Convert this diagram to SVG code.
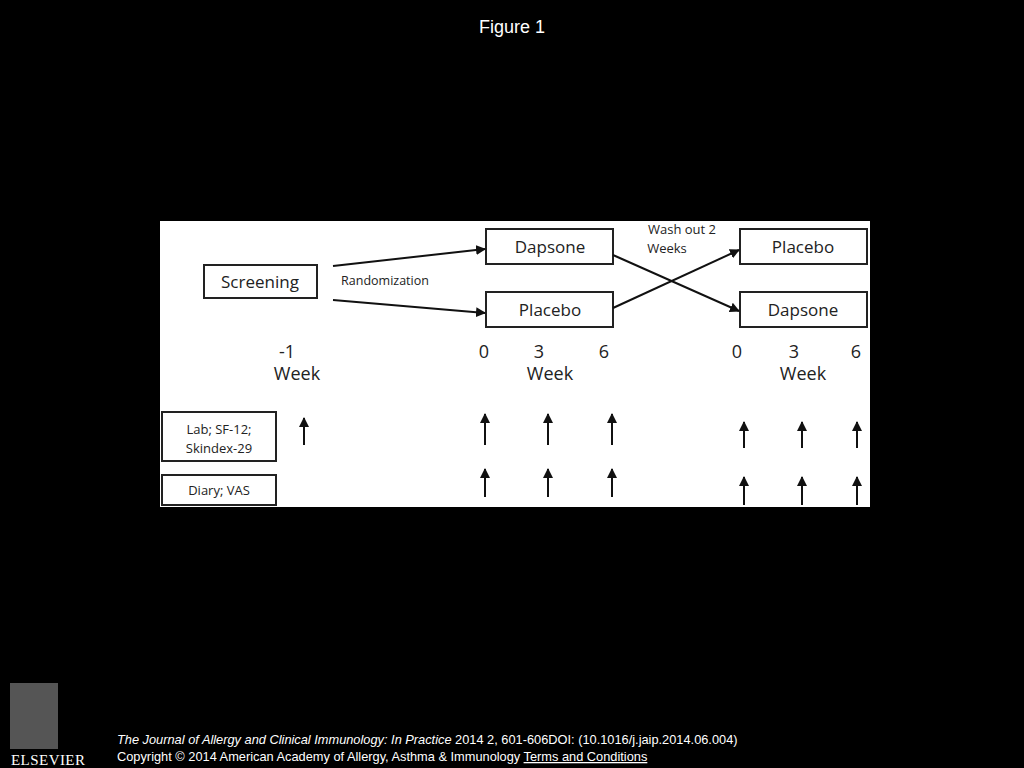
<svg xmlns="http://www.w3.org/2000/svg" width="1024" height="768" viewBox="0 0 1024 768">
<defs>
<marker id="ah" viewBox="0 0 10 10" refX="9" refY="5" markerWidth="5" markerHeight="5" orient="auto"><path d="M0,0 L10,5 L0,10 Z" fill="#111"/></marker>
</defs>
<style>
.box{fill:#fff;stroke:#222;stroke-width:2}
.t{font-family:"Open Sans","Liberation Sans",sans-serif;fill:#222;text-anchor:middle}
.c{stroke:#111;stroke-width:2;fill:none;marker-end:url(#ah)}
.f{font-family:"Liberation Sans",Arial,sans-serif;fill:#fff}
</style>
<rect width="1024" height="768" fill="#000"/>
<text class="f" x="512" y="33" font-size="18" text-anchor="middle">Figure 1</text>
<rect x="160" y="221" width="710" height="286" fill="#fff"/>
<g id="screening"><rect class="box" x="204" y="265" width="113" height="33"/><text class="t" x="260" y="288" font-size="17">Screening</text></g>
<text class="t" x="385" y="285" font-size="12.5">Randomization</text>
<g id="dapsone1"><rect class="box" x="486" y="229" width="127" height="35"/><text class="t" x="550" y="253" font-size="17">Dapsone</text></g>
<g id="placebo1"><rect class="box" x="486" y="292" width="127" height="35"/><text class="t" x="550" y="316" font-size="17">Placebo</text></g>
<g id="placebo2"><rect class="box" x="740" y="229" width="127" height="35"/><text class="t" x="803" y="253" font-size="17">Placebo</text></g>
<g id="dapsone2"><rect class="box" x="740" y="292" width="127" height="35"/><text class="t" x="803" y="316" font-size="17">Dapsone</text></g>
<text class="t" x="682" y="234" font-size="13">Wash out 2</text>
<text class="t" x="667" y="253" font-size="13">Weeks</text>
<g class="t" font-size="18">
<text x="287" y="358">-1</text><text x="297" y="380">Week</text>
<text x="484" y="358">0</text><text x="539" y="358">3</text><text x="604" y="358">6</text><text x="550" y="380">Week</text>
<text x="737" y="358">0</text><text x="794" y="358">3</text><text x="856" y="358">6</text><text x="803" y="380">Week</text>
</g>
<g id="lab"><rect class="box" x="162" y="412" width="114" height="49"/><text class="t" x="219" y="434" font-size="13">Lab; SF-12;</text><text class="t" x="219" y="453" font-size="13">Skindex-29</text></g>
<g id="diary"><rect class="box" x="162" y="475" width="114" height="30"/><text class="t" x="219" y="495" font-size="13">Diary; VAS</text></g>
<g id="connectors">
<path class="c" d="M333,266 L485,249"/>
<path class="c" d="M333,300 L485,313"/>
<path class="c" d="M613,255 L739,311"/>
<path class="c" d="M613,308 L739,250"/>
<path class="c" d="M304,445 V418"/>
<path class="c" d="M485,445 V414"/><path class="c" d="M548,445 V414"/><path class="c" d="M612,445 V414"/>
<path class="c" d="M744,448 V422"/><path class="c" d="M802,448 V422"/><path class="c" d="M857,448 V422"/>
<path class="c" d="M485,497 V469"/><path class="c" d="M548,497 V469"/><path class="c" d="M612,497 V469"/>
<path class="c" d="M744,505 V477"/><path class="c" d="M802,505 V477"/><path class="c" d="M857,505 V477"/>
</g>
<rect x="10" y="683" width="48" height="66" fill="#555"/>
<text x="48" y="765" font-family="Liberation Serif,serif" font-size="15" fill="#fff" text-anchor="middle" textLength="74">ELSEVIER</text>
<text class="f" x="117" y="744" font-size="12.8"><tspan font-style="italic">The Journal of Allergy and Clinical Immunology: In Practice</tspan> 2014 2, 601-606DOI: (10.1016/j.jaip.2014.06.004)</text>
<text class="f" x="117" y="761" font-size="12.8">Copyright © 2014 American Academy of Allergy, Asthma &amp; Immunology <tspan text-decoration="underline">Terms and Conditions</tspan></text>
</svg>
